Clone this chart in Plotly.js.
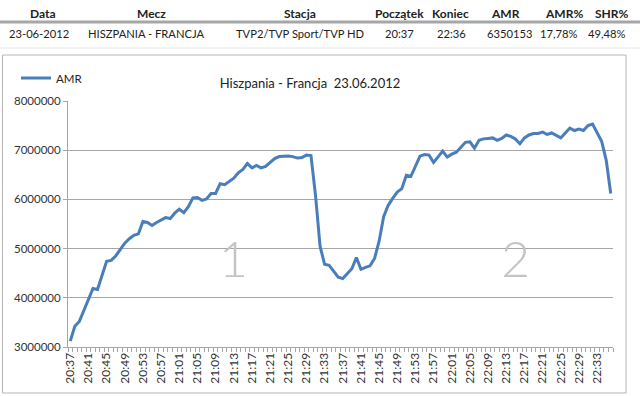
<!DOCTYPE html>
<html><head><meta charset="utf-8">
<script src="https://cdn.plot.ly/plotly-3.0.1.min.js"></script>
<style>html,body{margin:0;padding:0;background:#fff}#chart{width:640px;height:396px}</style>
</head><body><div id="chart"></div>
<script>
// ---- data ----
const startTime = "20:37";
const pointCount = 120;
const times = [];
(function(){ const [h,m] = startTime.split(":").map(Number); for (let k=0;k<pointCount;k++){ const t=h*60+m+k; times.push(String(Math.floor(t/60)).padStart(2,"0")+":"+String(t%60).padStart(2,"0")); } })();
const amr = [
 3120000,3420000,3520000,3750000,3970000,4190000,4170000,4470000,4740000,4760000,
 4850000,4980000,5110000,5200000,5270000,5300000,5550000,5530000,5470000,5530000,
 5580000,5630000,5610000,5720000,5800000,5730000,5850000,6030000,6040000,5980000,
 6010000,6120000,6120000,6320000,6300000,6370000,6430000,6540000,6610000,6730000,
 6640000,6690000,6640000,6670000,6760000,6830000,6870000,6880000,6880000,6870000,
 6840000,6850000,6900000,6890000,6080000,5050000,4680000,4660000,4550000,4420000,
 4390000,4480000,4590000,4820000,4580000,4620000,4650000,4800000,5150000,5650000,
 5880000,6020000,6150000,6220000,6490000,6470000,6660000,6880000,6910000,6900000,
 6750000,6860000,6980000,6860000,6920000,6960000,7070000,7160000,7170000,7040000,
 7200000,7230000,7240000,7250000,7200000,7240000,7310000,7280000,7230000,7130000,
 7250000,7310000,7340000,7340000,7370000,7320000,7350000,7300000,7250000,7350000,
 7450000,7400000,7430000,7400000,7500000,7530000,7350000,7180000,6800000,6120000
];
const seriesName = "AMR";
const tickStep = 4;
const yTicks = [3000000,4000000,5000000,6000000,7000000,8000000];
const chartTitle = "Hiszpania - Francja\u00a0\u00a023.06.2012";
const tableHeaders = ["Data","Mecz","Stacja","Początek","Koniec","AMR","AMR%","SHR%"];
const tableRow = ["23-06-2012","HISZPANIA - FRANCJA","TVP2/TVP Sport/TVP HD","20:37","22:36","6350153","17,78%","49,48%"];
const periodLabels = ["1","2"];
const periodTimes = ["21:13","22:15"];

// ---- layout helpers (pixel -> paper) ----
const L=68, R=27, T=101, B=49, W=640, H=396;
const pw = W-L-R, ph = H-T-B;
const px = x => (x-L)/pw;
const py = y => (H-B-y)/ph;
const headX = [43,151,300,399,450,505,564,612];
const rowX = [39,146,300,399,451,509,558,606];
const FONT = "Lato, 'Open Sans', sans-serif";

const annotations = [];
tableHeaders.forEach((t,i)=>annotations.push({text:"<b>"+t+"</b>",x:px(headX[i]),y:py(13),xref:"paper",yref:"paper",xanchor:"center",yanchor:"middle",showarrow:false,font:{family:FONT,size:12,color:"#222"}}));
tableRow.forEach((t,i)=>annotations.push({text:t,x:px(rowX[i]),y:py(33),xref:"paper",yref:"paper",xanchor:"center",yanchor:"middle",showarrow:false,font:{family:FONT,size:11.2,color:"#222"}}));
periodLabels.forEach((t,i)=>annotations.push({text:t,x:periodTimes[i],y:4800000,xref:"x",yref:"y",xanchor:"center",yanchor:"middle",showarrow:false,font:{family:FONT,size:50,weight:300,color:"#c4c4c4"}}));

const shapes = [
  {type:"line",xref:"paper",yref:"paper",x0:px(0),x1:px(640),y0:py(22),y1:py(22),line:{color:"#a6a6a6",width:3}},
  {type:"line",xref:"paper",yref:"paper",x0:px(0),x1:px(640),y0:py(48),y1:py(48),line:{color:"#e6e6e6",width:1}},
  {type:"rect",xref:"paper",yref:"paper",x0:px(2.5),x1:px(626),y0:py(55),y1:py(393),line:{color:"#b5b5b5",width:1}}
];

const data = [
  {type:"scatter",mode:"lines",x:times,y:amr,name:seriesName,line:{color:"#4a7ebb",width:3},hoverinfo:"skip"},
  {type:"scatter",mode:"lines",x:[],y:[],xaxis:"x2",showlegend:false,hoverinfo:"skip"}
];

const layout = {
  width:W,height:H,margin:{l:L,r:R,t:T,b:B},
  paper_bgcolor:"#fff",plot_bgcolor:"#fff",
  font:{family:FONT,color:"#333"},
  title:{text:chartTitle,x:310/W,xanchor:"center",y:1-83/H,yanchor:"middle",font:{family:FONT,size:13,color:"#222"}},
  showlegend:true,
  legend:{x:px(16),y:py(78),xanchor:"left",yanchor:"middle",bgcolor:"rgba(0,0,0,0)",font:{family:FONT,size:11.5,color:"#222"}},
  xaxis:{type:"category",range:[-0.5,pointCount-0.5],tickmode:"array",
    tickvals:times.filter((_,i)=>i%tickStep===0),ticktext:times.filter((_,i)=>i%tickStep===0),
    tickangle:-90,ticks:"",showgrid:false,showline:true,linecolor:"#a6a6a6",linewidth:1,
    tickfont:{family:FONT,size:12,color:"#333"},zeroline:false},
  xaxis2:{overlaying:"x",anchor:"y",type:"linear",range:[-0.5,pointCount-0.5],tickmode:"linear",tick0:-0.5,dtick:1,
    ticks:"outside",ticklen:4,tickcolor:"#a6a6a6",showticklabels:false,showgrid:false,zeroline:false,showline:false},
  yaxis:{range:[3000000,8000000],tickmode:"array",tickvals:yTicks,tickformat:"d",
    showgrid:true,gridcolor:"#a6a6a6",gridwidth:1,showline:true,linecolor:"#a6a6a6",
    ticks:"outside",ticklen:4,tickcolor:"#a6a6a6",zeroline:false,
    tickfont:{family:FONT,size:11.5,color:"#333"}},
  annotations:annotations,shapes:shapes
};
Plotly.newPlot("chart",data,layout,{staticPlot:true,displayModeBar:false});
</script></body></html>
